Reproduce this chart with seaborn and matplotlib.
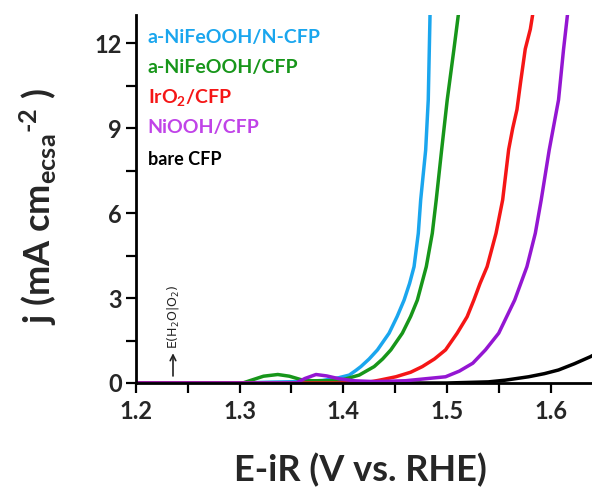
import matplotlib
matplotlib.use("Agg")
import matplotlib.pyplot as plt
import seaborn as sns
import pandas as pd
from matplotlib.ticker import MultipleLocator

# LSV curves: potential E-iR (V vs. RHE) and ECSA-normalised current density (mA cm-2)
bare_E = [1.20, 1.50, 1.54, 1.5564, 1.5788, 1.594, 1.6077, 1.623, 1.6385, 1.642]
bare_j = [0.00, 0.00, 0.04, 0.10, 0.22, 0.33, 0.46, 0.68, 0.93, 1.00]

nfo_n_E = [1.20, 1.30, 1.33, 1.36, 1.38, 1.395, 1.4058, 1.412, 1.417, 1.425, 1.433,
           1.4442, 1.452, 1.4587, 1.464, 1.4683, 1.4724, 1.4747, 1.4795, 1.482, 1.4837]
nfo_n_j = [0.00, 0.00, 0.03, 0.05, 0.09, 0.18, 0.28, 0.44, 0.58, 0.85, 1.17,
           1.76, 2.35, 2.93, 3.52, 4.11, 5.29, 6.47, 8.23, 10.0, 13.0]

nfo_E = [1.20, 1.303, 1.313, 1.323, 1.3368, 1.348, 1.359, 1.37, 1.385, 1.40, 1.4154,
         1.4298, 1.438, 1.4459, 1.457, 1.465, 1.4715, 1.4801, 1.4859, 1.4897, 1.4949,
         1.5003, 1.5067, 1.511]
nfo_j = [0.00, 0.00, 0.12, 0.24, 0.30, 0.24, 0.12, 0.08, 0.08, 0.12, 0.28,
         0.58, 0.85, 1.17, 1.76, 2.35, 2.93, 4.11, 5.29, 6.47, 8.23,
         10.0, 11.77, 13.0]

iro2_E = [1.20, 1.42, 1.435, 1.4507, 1.465, 1.4763, 1.488, 1.4987, 1.5099, 1.5195,
          1.526, 1.532, 1.5388, 1.5474, 1.5538, 1.5596, 1.5635, 1.5676, 1.571,
          1.5756, 1.5805, 1.5827]
iro2_j = [0.00, 0.00, 0.10, 0.22, 0.38, 0.58, 0.85, 1.17, 1.76, 2.34,
          2.93, 3.52, 4.11, 5.29, 6.47, 8.25, 9.00, 9.66, 10.6,
          11.8, 12.5, 13.0]

niooh_E = [1.20, 1.3545, 1.363, 1.3737, 1.384, 1.396, 1.41, 1.43, 1.46, 1.4987,
           1.512, 1.525, 1.5372, 1.55, 1.5654, 1.5772, 1.5853, 1.591, 1.5987,
           1.6077, 1.6125, 1.6163]
niooh_j = [0.00, 0.00, 0.16, 0.30, 0.25, 0.15, 0.08, 0.05, 0.08, 0.22,
           0.42, 0.70, 1.17, 1.76, 2.93, 4.11, 5.29, 6.47, 8.23,
           10.0, 11.77, 13.0]

labels = ["bare CFP", "a-NiFeOOH/N-CFP", "a-NiFeOOH/CFP", "IrO$_2$/CFP", "NiOOH/CFP"]
line_colors = ["#000000", "#1aa6ee", "#17961a", "#f51616", "#9416d2"]
text_colors = ["#000000", "#1aa6ee", "#17961a", "#f51616", "#c043e8"]

frames = []
for name, E, j in zip(labels, [bare_E, nfo_n_E, nfo_E, iro2_E, niooh_E],
                      [bare_j, nfo_n_j, nfo_j, iro2_j, niooh_j]):
    frames.append(pd.DataFrame({"E": E, "j": j, "sample": name}))
df = pd.concat(frames, ignore_index=True)

sns.set_style("ticks")
plt.rcParams["font.family"] = ["Lato", "DejaVu Sans"]
plt.rcParams["font.weight"] = "bold"
plt.rcParams["mathtext.fontset"] = "custom"
plt.rcParams["mathtext.rm"] = "Lato:bold"
plt.rcParams["mathtext.it"] = "Lato:bold"
plt.rcParams["mathtext.bf"] = "Lato:bold"
plt.rcParams["mathtext.default"] = "regular"

fig = plt.figure(figsize=(5.92, 5.0), dpi=100)
ax = fig.add_axes([136 / 592, 1 - 383 / 500, (592 - 136) / 592, (383 - 15) / 500])

sns.lineplot(data=df, x="E", y="j", hue="sample", hue_order=labels,
             palette=dict(zip(labels, line_colors)), sort=False, estimator=None,
             linewidth=2.5, legend=False, ax=ax)
for ln in ax.get_lines():
    ln.set_solid_joinstyle("round")
    ln.set_solid_capstyle("round")
    ln.set_zorder(2)

ax.set_xlim(1.2, 1.64)
ax.set_ylim(0, 13)
ax.xaxis.set_minor_locator(MultipleLocator(0.05))
ax.yaxis.set_minor_locator(MultipleLocator(1.5))
ax.set_xticks([1.2, 1.3, 1.4, 1.5, 1.6])
ax.set_xticklabels(["1.2", "1.3", "1.4", "1.5", "1.6"])
ax.set_yticks([0, 3, 6, 9, 12])

for s in ["top", "right"]:
    ax.spines[s].set_visible(False)
for s in ["left", "bottom"]:
    ax.spines[s].set_linewidth(2.0)
    ax.spines[s].set_color("black")
    ax.spines[s].set_zorder(3)
ax.tick_params(which="both", direction="out", length=7, width=1.6, color="black")
ax.tick_params(which="major", labelsize=17)
ax.tick_params(axis="x", which="major", pad=5)
ax.tick_params(axis="y", which="major", pad=3)
for lab in ax.get_xticklabels() + ax.get_yticklabels():
    lab.set_fontweight("bold")

ax.set_xlabel("E-iR (V vs. RHE)", fontsize=26, fontweight="bold")
ax.xaxis.set_label_coords(0.493, -0.236)
ax.xaxis.label.set_va("center")
ax.set_ylabel(r"j (mA cm$_{ecsa}$$^{\text{-2}}$ )", fontsize=26, fontweight="bold")
ax.yaxis.set_label_coords(-0.215, 0.48)
ax.yaxis.label.set_va("center")

# sample labels, coloured like their curves
ypos = [0.606, 0.940, 0.856, 0.777, 0.693]
sizes = [13, 14, 14, 14, 14]
for name, c, yy, fs in zip(labels, text_colors, ypos, sizes):
    ax.text(0.026, yy, name, color=c, fontsize=fs, fontweight="bold",
            transform=ax.transAxes, ha="left", va="center")

# equilibrium potential of water oxidation
ax.annotate("", xy=(1.2357, 1.15), xytext=(1.2357, 0.15),
            arrowprops=dict(arrowstyle="->", color="#222222", lw=1.2))
ax.text(1.2357, 1.2, r"E(H$_2$O|O$_2$)", rotation=90, fontsize=9,
        fontweight="normal", color="#222222", ha="center", va="bottom",
        family=["DejaVu Sans"], math_fontfamily="dejavusans")

fig.savefig("out.png", dpi=100)
